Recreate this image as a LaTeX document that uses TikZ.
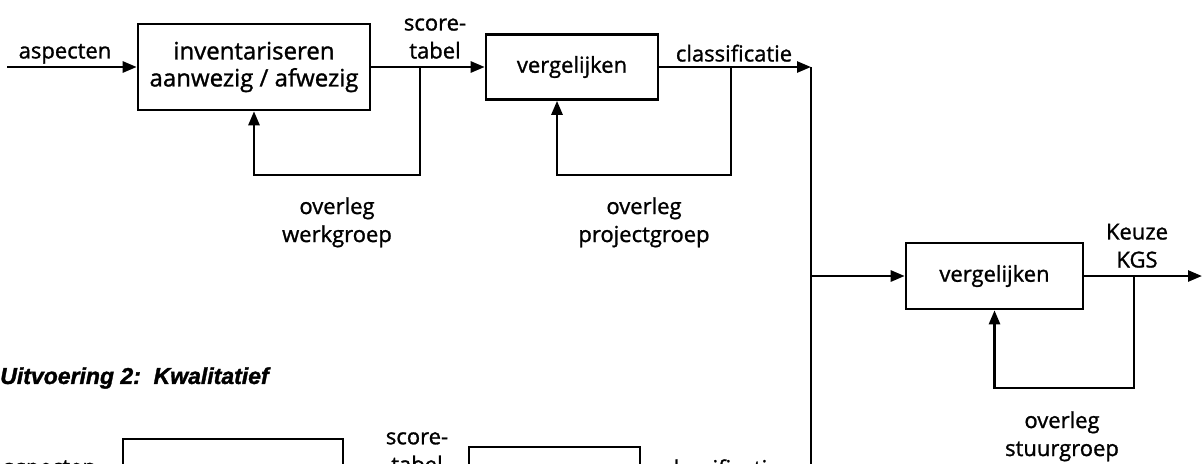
\documentclass[tikz,border=0pt]{standalone}
\usepackage{fontspec}
\setmainfont[FakeBold=1.2]{Open Sans}
\newfontfamily\titlefont[FakeBold=1.5]{Liberation Sans}
\usetikzlibrary{arrows.meta}
\begin{document}
\begin{tikzpicture}[x=0.5pt,y=-0.5pt,
  line width=1.3pt,
  proc/.style={draw,line width=1.3pt,inner sep=0pt,align=center,font=\fontsize{11}{13.5}\selectfont},
  lbl/.style={inner sep=0pt,align=center,font=\fontsize{11}{14}\selectfont},
  arr/.style={-{Triangle[length=7pt,width=5.5pt]}},
]
\useasboundingbox (0,0) rectangle (1203,463);
\clip (0,0) rectangle (1203,463);

% top row
\node[proc,minimum width=116pt,minimum height=43pt,font=\fontsize{12}{13.5}\selectfont] (inv) at (254,67) {inventariseren\\aanwezig / afwezig};
\node[proc,minimum width=86pt,minimum height=32.5pt] (cmp1) at (572,67) {vergelijken};
\node[proc,minimum width=88.5pt,minimum height=33pt] (cmp2) at (994.5,276) {vergelijken};

\coordinate (start1) at (7,67);
\draw[arr] (start1) -- (inv.west);
\node[lbl,anchor=south] (asp1) at (65,65) {aspecten};

\draw[arr] (inv.east) -- (cmp1.west);
\node[lbl,anchor=south] (st1) at (435,60) {score-\\tabel};

\coordinate (fb1) at (420,67);
\draw[arr] (fb1) -- (420,175) -| (inv.south);
\node[lbl,anchor=north] (ov1) at (337,196) {overleg\\werkgroep};

\coordinate (fb2) at (731,67);
\draw[arr] (fb2) -- (731,175) -| ([xshift=-7.5pt]cmp1.south);
\node[lbl,anchor=north] (ov2) at (644,196) {overleg\\projectgroep};

\coordinate (junc) at (811,67);
\draw[arr] (cmp1.east) -- (junc);
\node[lbl,anchor=south] (cl1) at (734,63) {classificatie};

\coordinate (bot) at (811,480);
\draw (junc) -- (bot);

\coordinate (br) at (811,276);
\draw[arr] (br) -- (cmp2.west);

\coordinate (out) at (1202,276);
\draw[arr] (cmp2.east) -- (out);
\node[lbl,anchor=south] (kz) at (1137,269) {Keuze\\KGS};

\coordinate (fb3) at (1134,276);
\draw[arr] (fb3) -- (1134,388) -| (cmp2.south);
\node[lbl,anchor=north] (ov3) at (1062,410) {overleg\\stuurgroep};

% second part (cut off at the lower edge, as in the reference)
\node[anchor=west,inner sep=0pt,font=\titlefont\bfseries\itshape\fontsize{11.5}{14}\selectfont] (title) at (-1,378) {Uitvoering 2:~~Kwalitatief};
\node[proc,minimum width=110pt,minimum height=43pt] (inv2) at (233,482) {};
\node[proc,minimum width=85.5pt,minimum height=32.5pt] (cmp3) at (554.5,479.5) {};
\node[lbl,anchor=north west] (asp2) at (2,459) {aspecten};
\node[lbl,anchor=north] (st2) at (417,431) {score-\\tabel};
\node[lbl,anchor=north west] (cl2) at (662,458) {classificatie};
\end{tikzpicture}
\end{document}
